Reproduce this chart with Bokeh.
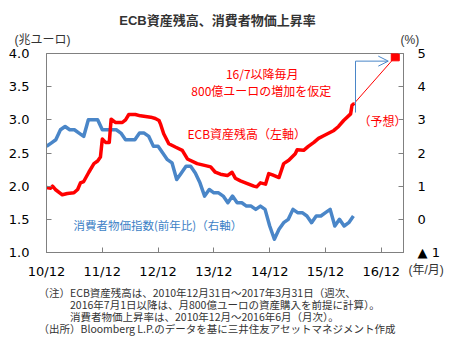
from bokeh.plotting import figure
from bokeh.models import (Range1d, LinearAxis, FixedTicker, Label, Arrow, OpenHead,
                          NumeralTickFormatter, Title)
from bokeh.embed import file_html
from bokeh.resources import INLINE

# ---------------- data ----------------
# ECB total assets (trillion EUR), x = months since 2010/12
ecb_month = [0, 0.9, 1.3, 1.9, 3.4, 4.5, 5.9, 6.7, 7.3, 8.0, 9.1, 10.2, 11.0, 11.6, 12.0,
             12.7, 13.5, 13.9, 14.8, 16.3, 17.0, 17.7, 19.1, 20.2, 21.3, 22.4, 23.4, 24.2,
             24.5, 25.2, 26.3, 27.7, 29.2, 30.3, 32.4, 34.2, 35.3, 36.3, 37.4, 38.9, 39.9,
             40.6, 41.7, 43.2, 44.6, 45.2, 46.0, 47.1, 47.8, 48.6, 50.0, 51.0, 52.1, 53.5,
             53.9, 55.3, 56.3, 57.5, 58.5, 59.6, 61.8, 62.8, 63.9, 65.4, 65.7, 66.2]
ecb_val = [1.98, 1.97, 2.00, 1.95, 1.87, 1.89, 1.90, 1.95, 2.05, 2.07, 2.21, 2.34, 2.38, 2.44, 2.71,
           2.66, 2.66, 3.01, 2.96, 2.96, 3.00, 3.08, 3.08, 3.06, 3.05, 3.04, 3.02, 2.99,
           2.94, 2.79, 2.64, 2.59, 2.54, 2.41, 2.34, 2.31, 2.29, 2.21, 2.18, 2.16, 2.21,
           2.12, 2.08, 2.04, 2.00, 1.99, 2.05, 2.03, 2.19, 2.17, 2.13, 2.34, 2.39, 2.49,
           2.55, 2.54, 2.60, 2.66, 2.72, 2.76, 2.84, 2.90, 2.99, 3.09, 3.22, 3.25]
# forecast end point (2017/3)
fc_month = [66.2, 75]
fc_val = [3.25, 3.95]

# Euro area HICP YoY (%), monthly 2010/12 .. 2016/6
cpi_val = [2.2,
           2.3, 2.4, 2.7, 2.8, 2.7, 2.7, 2.6, 2.5, 3.0, 3.0, 3.0, 2.7,
           2.7, 2.7, 2.7, 2.6, 2.4, 2.4, 2.4, 2.6, 2.6, 2.5, 2.2, 2.2,
           2.0, 1.8, 1.7, 1.2, 1.4, 1.6, 1.6, 1.4, 1.1, 0.7, 0.9, 0.8,
           0.8, 0.7, 0.5, 0.7, 0.5, 0.5, 0.4, 0.4, 0.3, 0.4, 0.3, -0.2,
           -0.6, -0.3, -0.1, 0.0, 0.3, 0.2, 0.2, 0.1, -0.1, 0.1, 0.1, 0.2,
           0.3, -0.2, 0.0, -0.2, -0.1, 0.1]
cpi_month = list(range(len(cpi_val)))

x_ticks = [0, 12, 24, 36, 48, 60, 72]
x_labels = ["10/12", "11/12", "12/12", "13/12", "14/12", "15/12", "16/12"]
left_ticks = [1.0, 1.5, 2.0, 2.5, 3.0, 3.5, 4.0]
right_ticks = [-1, 0, 1, 2, 3, 4, 5]
right_labels = ["▲ 1", "0", "1", "2", "3", "4", "5"]

RED = "#ff0000"
BLUE = "#4a86c8"
GRAY = "#808080"
JP = "Noto Sans CJK JP"
NUM = "DejaVu Sans"
SLIM = "Liberation Sans, Noto Sans CJK JP"

p = figure(width=463, height=351, x_range=Range1d(0, 76.77), y_range=Range1d(1, 4),
           min_border_left=46, min_border_right=60, min_border_top=53, min_border_bottom=99,
           output_backend="svg", toolbar_location=None, background_fill_color="white",
           border_fill_color="white", title=None)
p.outline_line_color = GRAY
p.xgrid.visible = False
p.ygrid.visible = False
p.extra_y_ranges = {"right": Range1d(-1, 5)}

def style(ax, standoff):
    ax.axis_line_color = GRAY
    ax.major_tick_line_color = GRAY
    ax.major_tick_in = 5
    ax.major_tick_out = 0
    ax.minor_tick_line_color = None
    ax.major_label_text_font = NUM
    ax.major_label_text_font_size = "13px"
    ax.major_label_text_color = "black"
    ax.major_label_standoff = standoff

xa = p.xaxis[0]
xa.ticker = FixedTicker(ticks=x_ticks)
xa.major_label_overrides = {t: l for t, l in zip(x_ticks, x_labels)}
style(xa, 11)

ya = p.yaxis[0]
ya.ticker = FixedTicker(ticks=left_ticks)
ya.formatter = NumeralTickFormatter(format="0.0")
style(ya, 17)

ra = LinearAxis(y_range_name="right", ticker=FixedTicker(ticks=right_ticks))
ra.major_label_overrides = {t: l for t, l in zip(right_ticks, right_labels)}
style(ra, 14)
p.add_layout(ra, "right")

# lines
p.line(cpi_month, cpi_val, y_range_name="right", line_color=BLUE, line_width=3.5,
       line_join="round")
p.line(ecb_month, ecb_val, line_color=RED, line_width=3.5, line_join="round")
p.line(fc_month, fc_val, line_color=RED, line_width=1)
p.scatter([fc_month[-1]], [fc_val[-1]], marker="square", size=8, color=RED)

# arrow annotation
p.line([66.45, 66.45], [3.11, 3.885], line_color=BLUE, line_width=1)
p.add_layout(Arrow(end=OpenHead(size=10, line_color=BLUE, line_width=1),
                   x_start=66.45, y_start=3.885, x_end=73.5, y_end=3.885,
                   line_color=BLUE, line_width=1))

def lab(x, y, text, size="12px", color="black", align="left", font=JP, style="normal"):
    p.add_layout(Label(x=x, y=y, text=text, text_font=font, text_font_size=size,
                       text_color=color, text_align=align, text_baseline="middle",
                       text_font_style=style))

def side_label(loc, x, y, text, size="12px", align="left", style="normal"):
    # label living in a side panel (not clipped to the frame); offsets from that panel
    p.add_layout(Label(x=x, y=y, x_units="screen", y_units="screen", text=text,
                       text_font=SLIM, text_font_size=size, text_color="#333333",
                       text_align=align, text_baseline="middle",
                       text_font_style=style), loc)

# above stack, from the frame outward (each ~14px tall)
H = 14
side_label("above", -32, 53 - 39, "(兆ユーロ)")
side_label("above", 354, 53 - H - 39, "(%)")
side_label("above", 171, 53 - 2 * H - 20, "ECB資産残高、消費者物価上昇率", size="13px",
           align="center", style="bold")

# below stack, from the frame outward
note_text = ("（注）ECB資産残高は、2010年12月31日～2017年3月31日（週次、\n"
             "　　　2016年7月1日以降は、月800億ユーロの資産購入を前提に計算）。\n"
             "　　　消費者物価上昇率は、2010年12月～2016年6月（月次）。\n"
             "（出所）Bloomberg L.P.のデータを基に三井住友アセットマネジメント作成")
p.add_layout(Title(text=note_text, text_font=JP, text_font_size="10.5px",
                   text_font_style="normal", text_color="#333333", align="left",
                   offset=-8, standoff=3.5, text_line_height=0.79), "below")
side_label("below", 362, 82, "(年/月)")

lab(46.4, 3.70, "16/7以降毎月", color=RED, align="center")
lab(46.2, 3.44, "800億ユーロの増加を仮定", color=RED, align="center")
lab(30.3, 2.79, "ECB資産残高（左軸）", color=RED)
lab(67.1, 2.99, "（予想）", color=RED)
lab(5.8, 1.41, "消費者物価指数(前年比)（右軸）", size="11.5px", color="#3d7fc6")

open("out.html", "w").write(file_html(p, INLINE))
